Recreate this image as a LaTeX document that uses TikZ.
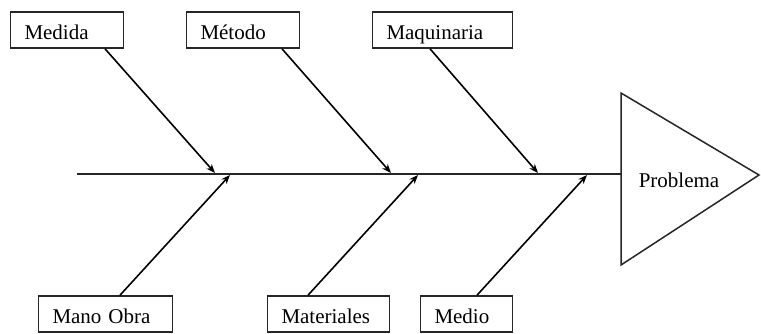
\documentclass[tikz,border=0pt]{standalone}
\usepackage{fontspec}
\setmainfont{Liberation Serif}
\usetikzlibrary{arrows.meta}

\begin{document}
\begin{tikzpicture}[x=1pt, y=-1pt, >={Stealth[length=9pt,width=7pt]},
    causa/.style={rectangle, draw=black!85, line width=1.6pt, minimum height=36pt, inner xsep=14pt, text height=19pt, text depth=0pt, text width=#1, align=left, font=\fontsize{21}{24}\selectfont}]
    \useasboundingbox (0,0) rectangle (761,333);

    \node (medida) [causa=85pt] at (67,30) {Medida};
    \node (metodo) [causa=85pt] at (243,30) {Método};
    \node (maquinaria) [causa=112pt] at (442.5,30) {Maquinaria};
    \node (manoobra) [causa=106pt] at (105.5,314) {Mano Obra};
    \node (materiales) [causa=94pt] at (328.5,314) {Materiales};
    \node (medio) [causa=64pt] at (466.5,314) {Medio};

    \coordinate (cola) at (77,174);
    \coordinate (cabeza) at (621,174);
    \draw[black!85, line width=1.5pt, line join=miter] (621,93) -- (759,175) -- (621,265) -- cycle;
    \node (problema) [font=\fontsize{21}{24}\selectfont] at (679,180) {Problema};

    \draw[black!85, line width=2.4pt] (cola) -- (cabeza);

    \coordinate (m1) at (215,173);
    \coordinate (m2) at (391,173);
    \coordinate (m3) at (538,173);
    \coordinate (b1) at (230,175);
    \coordinate (b2) at (418,175);
    \coordinate (b3) at (587,175);

    \draw[->, line width=1.6pt] ([xshift=38pt]medida.south) -- (m1);
    \draw[->, line width=1.6pt] ([xshift=39pt]metodo.south) -- (m2);
    \draw[->, line width=1.6pt] ([xshift=-12.5pt]maquinaria.south) -- (m3);
    \draw[->, line width=1.6pt] ([xshift=14.5pt]manoobra.north) -- (b1);
    \draw[->, line width=1.6pt] ([xshift=-20.5pt]materiales.north) -- (b2);
    \draw[->, line width=1.6pt] ([xshift=10.5pt]medio.north) -- (b3);
\end{tikzpicture}
\end{document}
